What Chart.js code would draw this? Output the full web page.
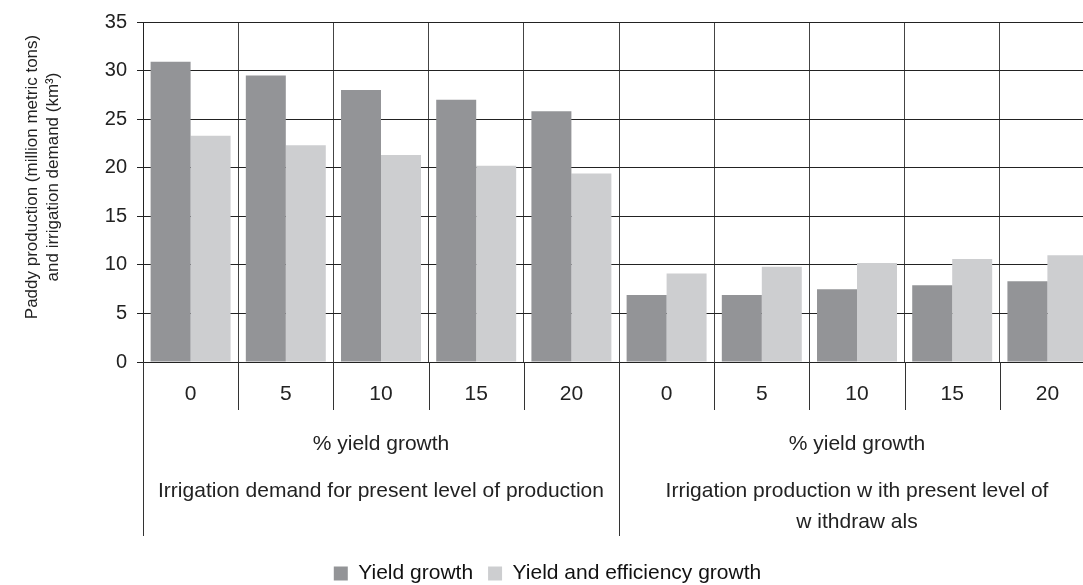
<!DOCTYPE html>
<html>
<head>
<meta charset="utf-8">
<script src="https://cdn.jsdelivr.net/npm/chart.js@4"></script>
<style>
  html, body { margin: 0; padding: 0; background: #fff; overflow: hidden; }
  /* the reference is cropped on the right and bottom, so the chart is a bit bigger than the window */
  #wrap { width: 1097px; height: 594px; }
</style>
</head>
<body>
<div id="wrap"><canvas id="chart"></canvas></div>
<script>
const categories = ['0', '5', '10', '15', '20', '0', '5', '10', '15', '20'];
const yieldGrowth = [30.9, 29.5, 28.0, 27.0, 25.8, 6.9, 6.9, 7.5, 7.9, 8.3];
const yieldAndEfficiency = [23.3, 22.3, 21.3, 20.2, 19.4, 9.1, 9.8, 10.2, 10.6, 11.0];
const seriesNames = ['Yield growth', 'Yield and efficiency growth'];
const groupSize = 5;
const groupAxisTitle = '% yield growth';
const groupNames = [
  ['Irrigation demand for present level of production'],
  ['Irrigation production w ith present level of', 'w ithdraw als']
];
const yTitle = ['Paddy production (million metric tons)', 'and irrigation demand (km\u00B3)'];

const FONT = '"Liberation Sans", Arial, sans-serif';

// draws the lower rows of the category table and the y axis title
const tablePlugin = {
  id: 'tableLabels',
  afterDraw(chart) {
    const { ctx, chartArea, scales: { x } } = chart;
    const step = x.getPixelForValue(1) - x.getPixelForValue(0);
    const bottom = chartArea.bottom;
    ctx.save();
    ctx.strokeStyle = '#333';
    ctx.lineWidth = 1;
    for (let i = 0; i <= categories.length; i++) {
      const px = Math.round(x.getPixelForValue(0) + (i - 0.5) * step) + 0.5;
      const groupEdge = i % groupSize === 0;
      ctx.beginPath();
      ctx.moveTo(px, bottom);
      ctx.lineTo(px, bottom + (groupEdge ? 174 : 48));
      ctx.stroke();
    }

    ctx.fillStyle = '#222';
    ctx.textAlign = 'center';
    ctx.textBaseline = 'middle';
    ctx.font = '21px ' + FONT;
    groupNames.forEach((lines, g) => {
      const first = x.getPixelForValue(g * groupSize);
      const last = x.getPixelForValue(g * groupSize + groupSize - 1);
      const cx = (first + last) / 2;
      ctx.fillText(groupAxisTitle, cx, bottom + 82);
      lines.forEach((t, k) => ctx.fillText(t, cx, bottom + 129 + k * 31));
    });

    ctx.font = '17px ' + FONT;
    yTitle.forEach((t, k) => {
      ctx.save();
      ctx.translate(32 + k * 21, 177);
      ctx.rotate(-Math.PI / 2);
      ctx.fillText(t, 0, 0);
      ctx.restore();
    });
    ctx.restore();
  }
};

new Chart(document.getElementById('chart'), {
  type: 'bar',
  data: {
    labels: categories,
    datasets: [
      { label: seriesNames[0], data: yieldGrowth, backgroundColor: '#939497' },
      { label: seriesNames[1], data: yieldAndEfficiency, backgroundColor: '#cdced0' }
    ]
  },
  options: {
    responsive: true,
    maintainAspectRatio: false,
    animation: false,
    layout: { padding: { top: 21, right: 2, left: 0, bottom: 0 } },
    datasets: { bar: { categoryPercentage: 0.84, barPercentage: 1.0 } },
    scales: {
      x: {
        grid: { color: '#444', lineWidth: 1, drawTicks: false, offset: true },
        border: { color: '#222' },
        ticks: { color: '#222', font: { family: FONT, size: 21 }, padding: 20, maxRotation: 0 },
        afterFit(scale) { scale.height = 186; }
      },
      y: {
        min: 0,
        max: 35,
        ticks: { stepSize: 5, color: '#222', font: { family: FONT, size: 20 }, padding: 10 },
        grid: { color: '#222', lineWidth: 1, tickLength: 6 },
        border: { color: '#222' },
        afterFit(scale) { scale.width = 143; }
      }
    },
    plugins: {
      legend: {
        position: 'bottom',
        labels: {
          color: '#111',
          font: { family: FONT, size: 21 },
          boxWidth: 14,
          boxHeight: 14,
          padding: 15
        }
      },
      tooltip: { enabled: false }
    }
  },
  plugins: [tablePlugin]
});
</script>
</body>
</html>
